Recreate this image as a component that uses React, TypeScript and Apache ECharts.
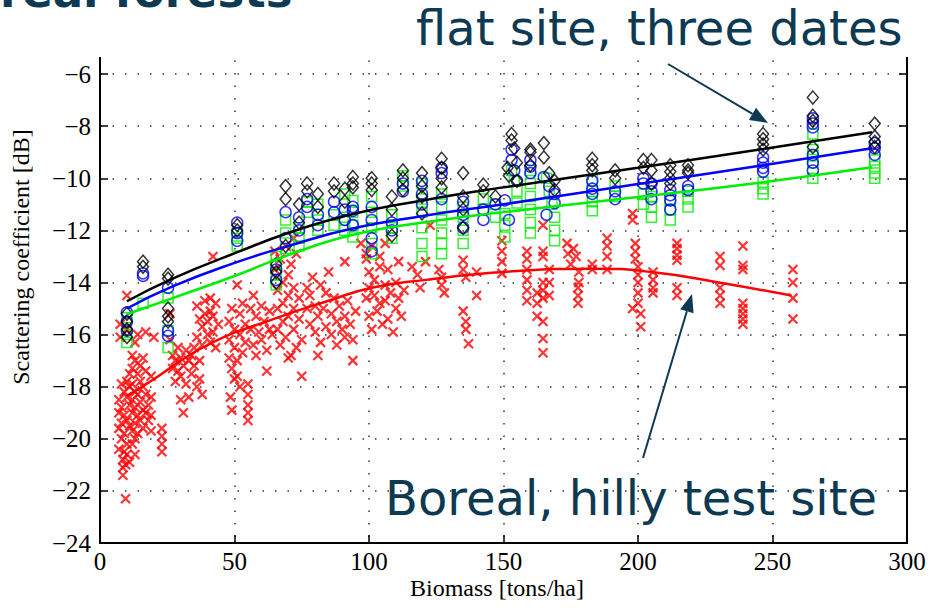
import React, { useEffect, useRef } from "react";
import * as echarts from "echarts";

// ---- axis ranges / ticks ----
const X_MIN = 0;
const X_MAX = 300;
const X_STEP = 50;
const Y_MIN = -24;
const Y_MAX = -5;
const Y_STEP = 2;

// ---- flat site, three dates: black diamonds [biomass, dB] ----
const BLACK_DIAMONDS: number[][] = [
  [10, -15.2], [10, -15.5], [10, -15.8], [10, -16.1],
  [16, -13.2], [16, -13.4],
  [25.3, -13.7], [25.3, -13.85], [25.3, -15.0], [25.3, -15.3], [25.3, -15.5],
  [51, -11.8], [51, -12.0],
  [65.5, -13.3], [65.5, -13.6], [65.5, -14.0],
  [69, -10.3], [69, -10.8], [69, -12.6],
  [74, -11.0], [74, -11.7],
  [77, -10.2], [77, -10.5],
  [81, -10.6], [81, -11.1],
  [87, -10.2], [87, -10.5],
  [91, -10.4], [91, -10.9],
  [94, -9.95], [94, -10.2], [94, -10.35],
  [101, -10.0], [101, -10.2], [101, -10.45],
  [108.5, -10.7], [108.5, -11.2], [108.5, -12.2],
  [112.6, -9.7], [112.6, -10.0], [112.6, -10.45],
  [119.7, -9.8], [119.7, -10.3], [119.7, -10.7], [119.7, -11.35],
  [127, -9.25], [127, -9.6], [127, -10.0], [127, -10.35],
  [135, -9.8], [135, -10.7], [135, -11.2], [135, -11.9],
  [142.5, -10.25], [142.5, -10.5],
  [147, -10.7],
  [151.5, -9.6], [152, -9.9], [153, -8.3], [153, -8.55], [154, -8.85], [155, -9.4], [155, -10.1],
  [160, -8.9], [160, -9.0], [160, -9.5],
  [165, -8.65], [165, -9.2], [167, -9.8], [169, -10.1], [169, -10.45],
  [183, -9.25], [183, -9.5], [183, -9.7],
  [191.5, -9.7], [191.5, -10.0],
  [202, -9.3], [202, -9.6],
  [205, -9.3], [205, -9.7], [205, -10.2],
  [212, -9.5], [212, -9.75], [212, -10.0], [212, -10.2],
  [218.6, -9.5], [218.6, -9.7], [218.6, -9.8],
  [246.5, -8.3], [246.5, -8.5], [246.5, -8.7], [246.5, -8.9],
  [265, -6.9], [265, -7.6], [265, -7.8], [265, -8.8],
  [288, -7.9], [288, -8.4], [288, -8.6], [288, -8.8],
];

// ---- blue circles ----
const BLUE_CIRCLES: number[][] = [
  [10, -15.15], [10, -15.5], [10, -15.85],
  [16, -13.65], [16, -13.75],
  [25.3, -14.2], [25.3, -15.85], [25.3, -16.05],
  [51, -11.7], [51, -12.1], [51, -12.4],
  [65.5, -13.5], [65.5, -13.9],
  [69, -11.3], [69, -12.3],
  [74, -11.5], [74, -12.0],
  [77, -10.8], [77, -11.1],
  [81, -11.4], [81, -11.8],
  [87, -10.9], [87, -11.3],
  [91, -11.2], [91, -11.6],
  [94, -11.1], [94, -11.25], [94, -11.8],
  [101, -11.1], [101, -11.6], [101, -12.3], [101, -12.8],
  [108.5, -11.7], [108.5, -12.0],
  [112.6, -10.2], [112.6, -10.5],
  [119.7, -10.1], [119.7, -10.6], [119.7, -11.0],
  [127, -9.6], [127, -9.8], [127, -10.8],
  [135, -10.9], [135, -11.4], [135, -11.9],
  [142.5, -11.2], [142.5, -11.6],
  [147, -11.0],
  [150.5, -10.85], [153, -8.9], [153, -9.3], [154, -9.7], [155, -10.1], [152, -11.6],
  [160, -9.3], [160, -9.55], [160, -9.8],
  [165, -9.95], [167, -10.3], [169, -10.6], [169, -10.95], [166, -11.4],
  [183, -10.1], [183, -10.4], [183, -10.6],
  [191.5, -10.5], [191.5, -10.8],
  [202, -10.0], [202, -10.2],
  [205, -10.2], [205, -10.5], [205, -10.8],
  [212, -10.45], [212, -10.65], [212, -10.85], [212, -11.2],
  [218.6, -10.3], [218.6, -10.45],
  [246.5, -9.2], [246.5, -9.4], [246.5, -9.6], [246.5, -9.75],
  [265, -7.7], [265, -7.9], [265, -8.05], [265, -9.1], [265, -9.4], [265, -9.7],
  [288, -8.65], [288, -8.85], [288, -9.1],
];

// ---- green squares ----
const GREEN_SQUARES: number[][] = [
  [10, -15.35], [10, -16.0], [10, -16.3],
  [16, -14.8],
  [25.3, -14.6], [25.3, -15.85], [25.3, -16.5],
  [51, -12.1], [51, -12.3], [51, -12.6],
  [65.5, -13.0], [65.5, -13.3], [65.5, -13.7], [65.5, -14.1],
  [69, -11.6], [69, -12.1], [69, -12.7],
  [74, -11.9], [74, -12.3], [74, -12.6],
  [77, -10.9], [77, -11.3],
  [81, -11.0], [81, -11.6], [81, -12.0],
  [87, -11.4], [87, -11.8],
  [91, -10.6], [91, -11.5], [91, -12.0],
  [94, -10.85], [94, -11.3], [94, -11.8], [94, -12.25],
  [101, -10.7], [101, -11.3], [101, -11.9], [101, -12.5], [101, -12.9],
  [108.5, -11.4], [108.5, -11.9], [108.5, -12.3],
  [112.6, -9.9], [112.6, -10.3],
  [119.7, -10.2], [119.7, -10.8], [119.7, -11.3], [119.7, -11.9], [119.7, -12.5], [119.7, -13.0],
  [127, -10.6], [127, -11.1], [127, -11.6], [127, -12.1], [127, -12.5], [127, -12.9],
  [135, -11.1], [135, -11.5], [135, -12.0], [135, -12.5],
  [142.5, -10.8], [142.5, -11.2],
  [147, -11.0], [147, -11.5],
  [150.5, -11.35], [150.5, -11.8], [150.5, -12.25],
  [153, -9.7], [154, -10.1], [155, -10.5], [155, -10.95],
  [160, -9.7], [160, -10.2], [160, -10.7], [160, -11.2], [160, -11.7], [160, -12.1],
  [166, -10.0], [167, -10.5], [168, -11.0], [169, -11.5], [169, -12.0], [169, -12.4],
  [183, -10.1], [183, -10.5], [183, -10.9], [183, -11.25],
  [191.5, -10.3], [191.5, -10.7],
  [202, -10.6], [202, -11.0],
  [205, -10.7], [205, -11.1], [205, -11.5],
  [212, -10.85], [212, -11.2], [212, -11.6],
  [218.6, -10.5], [218.6, -10.8], [218.6, -11.1],
  [246.5, -10.15], [246.5, -10.4], [246.5, -10.6],
  [265, -8.3], [265, -8.9], [265, -9.15], [265, -9.4], [265, -10.0],
  [288, -9.3], [288, -9.55], [288, -9.8], [288, -10.0],
];

// ---- boreal, hilly test site: red crosses ----
const RED_CROSSES: number[][] = [
  [7, -18.5], [7, -19.0], [7, -19.6], [7, -20.4], [7.5, -15.6], [7.5, -16.1], [8, -17.9], [8, -18.8],
  [8, -19.4], [8, -20.0], [8.5, -20.8], [8.5, -21.1], [8.5, -21.4], [9, -18.2], [9, -19.1], [9, -19.8],
  [9, -20.5], [9.5, -21.0], [9.5, -22.3], [10, -14.5], [10, -15.8], [10, -17.8], [10, -18.4], [10, -19.3],
  [10, -20.2], [10, -20.6], [11, -17.5], [11, -18.0], [11, -18.7], [11, -19.5], [11, -20.9],
  [12, -16.8], [12, -17.3], [12, -17.9], [12, -18.5], [12, -19.0], [12, -19.7], [12, -20.2],
  [13, -16.3], [13, -17.0], [13, -18.2], [13, -18.8], [13, -19.4], [13, -20.0], [13, -20.6],
  [14, -16.0], [14, -17.5], [14, -18.3], [14, -19.1], [14, -19.8], [15, -17.2], [15, -17.8],
  [15, -18.6], [15, -19.3], [16, -16.9], [16, -18.0], [16, -18.9], [16, -19.6], [17, -15.9],
  [17, -17.4], [17, -18.3], [17, -19.0], [18, -18.7], [18, -19.3], [19, -17.6], [19, -18.4],
  [19, -19.1], [19, -19.7], [20, -16.1],
  [23, -19.6], [23, -19.9], [23, -20.2], [23, -20.5],
  [26, -16.2], [27, -16.8], [27, -17.3], [28, -17.0], [28, -17.8], [29, -16.5], [29, -17.4],
  [30, -16.9], [30, -17.6], [31, -17.2], [32, -16.6], [32, -17.9], [33, -17.0], [33, -18.4],
  [34, -16.8], [34, -17.5], [35, -16.5], [35, -17.2], [36, -18.0], [36, -16.1], [37, -17.0],
  [37, -17.7], [38, -16.4], [38, -18.3], [30, -18.5], [31, -19.0], [26, -15.2],
  [36, -14.9], [37, -15.4], [38, -15.7], [39, -14.7], [39, -15.2], [40, -15.5], [40, -16.0],
  [41, -14.6], [41, -15.1], [41, -16.3], [42, -13.0], [42, -15.3], [42, -15.9], [43, -14.8],
  [43, -16.5], [44, -15.6],
  [48, -15.5], [48, -16.2], [48, -16.9], [49, -15.0], [49, -17.3], [50, -15.8], [50, -16.5],
  [51, -14.1], [51, -17.0], [51, -17.6], [52, -15.2], [52, -16.0], [53, -16.7], [53, -14.8],
  [54, -15.6], [54, -16.3], [55, -17.9], [55, -18.3], [55, -18.7], [55, -19.0], [55, -19.3],
  [56, -15.0], [56, -15.8], [57, -16.4], [57, -14.5], [58, -15.3], [58, -16.8], [59, -15.9],
  [60, -14.9], [60, -16.2], [61, -15.5], [62, -16.6], [62, -17.4], [63, -15.1], [63, -15.8],
  [64, -16.0], [52, -18.0], [50, -17.7], [48.5, -18.4], [49, -18.9],
  [65, -12.8], [65, -13.5], [66, -14.3], [66, -15.0], [66, -15.8], [67, -16.4], [67, -13.1],
  [68, -14.0], [68, -14.8], [68, -15.5], [69, -16.1], [69, -12.6], [70, -13.7], [70, -14.5],
  [70, -15.3], [71, -16.8], [71, -13.3], [72, -14.2], [72, -15.0], [72, -15.8], [73, -16.5],
  [73, -12.9], [74, -14.6], [74, -15.4], [75, -16.2], [75, -17.6], [70, -16.9], [72, -12.3],
  [77, -14.2], [77, -15.0], [78, -15.6], [78, -14.5], [79, -13.8], [80, -14.9], [80, -15.9],
  [81, -15.3], [82, -14.1], [82, -16.3], [83, -15.0], [84, -14.4], [84, -15.7], [85, -13.6],
  [86, -15.2], [86, -16.0], [87, -14.6], [88, -15.5], [88, -16.4], [89, -14.9], [90, -15.8],
  [91, -15.3], [91, -16.1], [92, -14.7], [93, -15.6], [94, -16.2], [94, -17.0], [95, -15.1],
  [81, -16.8], [91, -13.2],
  [97, -12.5], [99, -12.9], [101, -12.6], [104, -13.0], [106, -12.5],
  [99, -13.1], [99, -14.6], [100, -13.6], [100, -14.2], [100, -15.3], [101, -15.8], [102, -13.9],
  [102, -14.5], [103, -15.1], [104, -13.4], [104, -14.8], [105, -15.6], [106, -14.1], [106, -14.7],
  [107, -13.5], [107, -15.4], [108, -14.4], [109, -15.9], [110, -14.0], [110, -15.0], [111, -13.2],
  [111, -14.6], [112, -15.3], [113, -14.3],
  [116, -13.4], [118, -13.7], [119, -14.2], [121, -13.2], [122.7, -11.8],
  [126, -13.5], [127, -13.8], [127, -14.1], [128, -14.4],
  [135, -13.15], [135, -13.5], [136, -13.8], [135, -15.1], [136, -15.5], [136, -15.8], [137, -16.35],
  [140, -13.6], [140, -14.5],
  [149.4, -12.4], [149.4, -12.8], [149.4, -13.2], [149.4, -13.65],
  [158.7, -12.8], [158.7, -13.1], [158.7, -13.5], [158.7, -13.9], [158.7, -14.3], [158.7, -14.7],
  [162.5, -14.4], [162.5, -14.8], [162.5, -15.3],
  [164.7, -11.8], [164.7, -12.8], [164.7, -13.0], [164.7, -14.0], [164.7, -14.3], [164.7, -14.6],
  [164.7, -15.5], [164.7, -16.15], [164.7, -16.7],
  [167, -13.5], [167, -14.0], [167, -14.5],
  [173.6, -12.5], [174, -12.9], [175, -13.3], [176, -12.7], [177, -13.0], [178, -13.6], [178, -14.0],
  [177.7, -14.2], [177.7, -14.5], [177.7, -14.8],
  [183, -13.3], [183, -13.5],
  [188.5, -12.3], [188.5, -12.6], [188.5, -13.0], [188.5, -13.5],
  [198, -11.35], [198, -11.6], [199, -12.5], [199, -12.8], [199, -13.1], [200, -13.4], [200, -13.7],
  [200, -14.0], [200, -14.4], [200, -14.8], [201, -15.2], [201, -15.7], [198, -15.0],
  [205.6, -13.6], [205.6, -13.9], [205.6, -14.2], [205.6, -14.4],
  [214.5, -12.5], [214.5, -12.7], [214.5, -12.95], [214.5, -13.15], [214.5, -14.2], [214.5, -14.5],
  [230.5, -13.0], [230.5, -13.35], [230.5, -14.2], [230.5, -14.5], [230.5, -14.8],
  [239, -12.6], [239, -13.35], [239, -13.5], [239, -14.8], [239, -15.0], [239, -15.2], [239, -15.4], [239, -15.6],
  [257.6, -13.5], [257.6, -14.0], [257.6, -14.6], [257.6, -15.4],
];

// ---- regression curves ----
const BLACK_FIT: number[][] = [
  [10, -14.72], [27, -13.85], [52, -12.8], [70, -12.1], [93, -11.4], [120, -10.85],
  [150, -10.35], [200, -9.6], [246.5, -8.88], [287, -8.23],
];
const BLUE_FIT: number[][] = [
  [10, -15.0], [27, -14.15], [50, -13.25], [70, -12.6], [93, -11.95], [120, -11.45],
  [150, -11.0], [200, -10.22], [246.5, -9.5], [287, -8.85],
];
const GREEN_FIT: number[][] = [
  [10, -15.22], [27, -14.6], [50, -13.75], [70, -12.95], [93, -12.2], [120, -11.7],
  [150, -11.3], [200, -10.72], [246.5, -10.15], [287, -9.58],
];
const RED_FIT: number[][] = [
  [10, -18.35], [18, -17.85], [40, -16.4], [66, -15.35], [85, -14.7], [101, -14.2], [121, -13.9],
  [150, -13.6], [183, -13.47], [205, -13.6], [230, -14.0], [257, -14.5],
];

const SERIF = '"Liberation Serif", "Times New Roman", Times, serif';
const SANS = '"DejaVu Sans", Verdana, sans-serif';
const NOTE = "#0d3a52";

const fmtY = (v: number) => (v === Y_MAX ? "" : v < 0 ? "\u2212" + Math.abs(v) : String(v));

function arrow(x1: number, y1: number, x2: number, y2: number, head: number, half: number) {
  const dx = x2 - x1;
  const dy = y2 - y1;
  const len = Math.sqrt(dx * dx + dy * dy);
  const ux = dx / len;
  const uy = dy / len;
  const bx = x2 - ux * head;
  const by = y2 - uy * head;
  const px = -uy * half;
  const py = ux * half;
  return [
    {
      type: "line",
      z: 60,
      shape: { x1, y1, x2: bx, y2: by },
      style: { stroke: NOTE, lineWidth: 2 },
    },
    {
      type: "polygon",
      z: 60,
      shape: { points: [[x2, y2], [bx + px, by + py], [bx - px, by - py]] },
      style: { fill: NOTE },
    },
  ];
}

export default function App() {
  const ref = useRef<HTMLDivElement>(null);
  useEffect(() => {
    document.body.style.margin = "0";
    if (!ref.current) return;
    const chart = echarts.init(ref.current, undefined, { renderer: "svg" });
    const hollow = (c: string) => ({ color: "none", borderColor: c, borderWidth: 1.5 });
    const fitLine = (name: string, data: number[][], c: string) => ({
      name,
      type: "line",
      data,
      smooth: 0.5,
      showSymbol: false,
      symbol: "none",
      z: 5,
      lineStyle: { color: c, width: 2.5 },
    });
    const axisLineStyle = { color: "#000", width: 2 };
    const option: any = {
      animation: false,
      backgroundColor: "#ffffff",
      grid: { left: 100, right: 28, top: 48, bottom: 68 },
      xAxis: [
        {
          type: "value",
          min: X_MIN,
          max: X_MAX,
          interval: X_STEP,
          axisLine: { show: true, onZero: false, lineStyle: axisLineStyle },
          axisTick: { show: true, inside: true, length: 8, lineStyle: { color: "#000", width: 1.5 } },
          axisLabel: { margin: 6, color: "#000", fontFamily: SERIF, fontSize: 25 },
          splitLine: { show: true, lineStyle: { color: "#333", width: 1.5, type: [1.5, 11] } },
        },
      ],
      yAxis: [
        {
          type: "value",
          min: Y_MIN,
          max: Y_MAX,
          interval: Y_STEP,
          axisLine: { show: true, onZero: false, lineStyle: axisLineStyle },
          axisTick: { show: true, inside: true, length: 8, lineStyle: { color: "#000", width: 1.5 } },
          axisLabel: { margin: 9, color: "#000", fontFamily: SERIF, fontSize: 25, formatter: fmtY },
          splitLine: { show: true, lineStyle: { color: "#333", width: 1.5, type: [1.5, 11] } },
        },
        {
          type: "value",
          position: "right",
          min: Y_MIN,
          max: Y_MAX,
          interval: Y_STEP,
          axisLine: { show: true, onZero: false, lineStyle: axisLineStyle },
          axisTick: { show: true, inside: true, length: 8, lineStyle: { color: "#000", width: 1.5 } },
          axisLabel: { show: false },
          splitLine: { show: false },
        },
      ],
      series: [
        {
          name: "Boreal, hilly",
          type: "scatter",
          data: RED_CROSSES,
          symbol: "path://M0,0L10,10M10,0L0,10",
          symbolSize: 9,
          itemStyle: { color: "none", borderColor: "#ff0000", borderWidth: 2.2 },
          z: 2,
        },
        {
          name: "date 3",
          type: "scatter",
          data: GREEN_SQUARES,
          symbol: "rect",
          symbolSize: 10,
          itemStyle: hollow("#00ee00"),
          z: 3,
        },
        {
          name: "date 2",
          type: "scatter",
          data: BLUE_CIRCLES,
          symbol: "circle",
          symbolSize: 11,
          itemStyle: hollow("#0000ff"),
          z: 3,
        },
        {
          name: "date 1",
          type: "scatter",
          data: BLACK_DIAMONDS,
          symbol: "diamond",
          symbolSize: [11, 13],
          itemStyle: hollow("#000000"),
          z: 3,
        },
        fitLine("fit 1", BLACK_FIT, "#000000"),
        fitLine("fit 2", BLUE_FIT, "#0000ff"),
        fitLine("fit 3", GREEN_FIT, "#00ee00"),
        fitLine("fit red", RED_FIT, "#ff0000"),
      ],
      graphic: [
        {
          type: "rect",
          z: 50,
          shape: { x: 0, y: 0, width: 935, height: 57 },
          style: { fill: "#ffffff" },
        },
        {
          type: "text",
          z: 61,
          x: 0,
          y: -9,
          style: {
            text: "real forests",
            fill: NOTE,
            font: `bold 45px ${SANS}`,
            textAlign: "left",
            textVerticalAlign: "middle",
          },
        },
        {
          type: "text",
          z: 61,
          x: 416,
          y: 28,
          style: {
            text: "flat site, three dates",
            fill: NOTE,
            font: `48px ${SANS}`,
            textAlign: "left",
            textVerticalAlign: "middle",
          },
        },
        {
          type: "text",
          z: 61,
          x: 385,
          y: 498,
          style: {
            text: "Boreal, hilly test site",
            fill: NOTE,
            font: `48px ${SANS}`,
            textAlign: "left",
            textVerticalAlign: "middle",
          },
        },
        ...arrow(668, 64, 768, 123, 18, 7),
        ...arrow(643, 458, 692, 294, 18, 7),
        {
          type: "text",
          z: 61,
          x: 21,
          y: 257,
          rotation: Math.PI / 2,
          style: {
            text: "Scattering coefficient [dB]",
            fill: "#000",
            font: `24px ${SERIF}`,
            textAlign: "center",
            textVerticalAlign: "middle",
          },
        },
        {
          type: "text",
          z: 61,
          x: 497,
          y: 588,
          style: {
            text: "Biomass [tons/ha]",
            fill: "#000",
            font: `24px ${SERIF}`,
            textAlign: "center",
            textVerticalAlign: "middle",
          },
        },
      ],
    };
    chart.setOption(option);
    return () => chart.dispose();
  }, []);
  return <div ref={ref} style={{ width: 935, height: 611 }} />;
}
